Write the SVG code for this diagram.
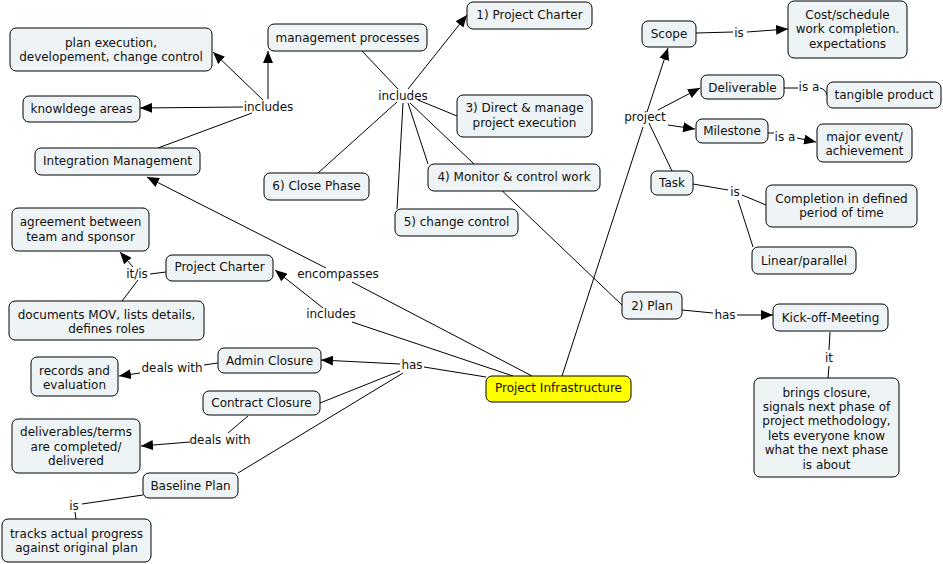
<svg xmlns="http://www.w3.org/2000/svg" width="943" height="564" viewBox="0 0 943 564">
<defs>
<marker id="arr" markerUnits="userSpaceOnUse" markerWidth="12" markerHeight="10" refX="12" refY="5" orient="auto">
<path d="M0,0 L12,5 L0,10 z" fill="#000"/>
</marker>
<style>
text{font-family:"DejaVu Sans",Verdana,sans-serif;font-size:12px;fill:#111;text-anchor:middle}
.n rect{fill:#eef3f5;stroke:#000;stroke-width:1}
#n_infra rect{fill:#ffff00}
#links line,#links path{stroke:#000;stroke-width:1;fill:none}
.a{marker-end:url(#arr)}
</style>
</defs>
<rect width="943" height="564" fill="#fff"/>
<g id="links">
<line x1="158" y1="148" x2="252" y2="113"/>
<line x1="243" y1="107" x2="140" y2="108" class="a"/>
<line x1="263" y1="100" x2="213" y2="52" class="a"/>
<line x1="268" y1="99" x2="268" y2="51" class="a"/>
<line x1="362" y1="51" x2="398" y2="89"/>
<line x1="408" y1="89" x2="467" y2="15" class="a"/>
<line x1="418" y1="100" x2="457" y2="116"/>
<line x1="408" y1="103" x2="428" y2="164"/>
<line x1="410" y1="103" x2="622" y2="305"/>
<line x1="403" y1="103" x2="397" y2="209"/>
<line x1="397" y1="102" x2="318" y2="173"/>
<line x1="532" y1="376" x2="352" y2="282"/>
<line x1="326" y1="268" x2="147" y2="177" class="a"/>
<line x1="513" y1="376" x2="352" y2="322"/>
<line x1="323" y1="308" x2="275" y2="270" class="a"/>
<line x1="486" y1="377" x2="424" y2="367"/>
<line x1="400" y1="364" x2="321" y2="360" class="a"/>
<line x1="400" y1="371" x2="320" y2="403"/>
<line x1="403" y1="373" x2="238" y2="473"/>
<line x1="218" y1="363" x2="204" y2="365"/>
<line x1="140" y1="373" x2="119" y2="376" class="a"/>
<line x1="248" y1="416" x2="228" y2="433"/>
<line x1="190" y1="442" x2="141" y2="446" class="a"/>
<line x1="143" y1="495" x2="82" y2="504"/>
<line x1="75" y1="512" x2="76" y2="519"/>
<line x1="166" y1="272" x2="150" y2="274"/>
<line x1="133" y1="267" x2="120" y2="252" class="a"/>
<line x1="138" y1="280" x2="122" y2="301"/>
<line x1="562" y1="376" x2="643" y2="127"/>
<line x1="647" y1="112" x2="668" y2="48" class="a"/>
<line x1="658" y1="110" x2="700" y2="88" class="a"/>
<line x1="668" y1="125" x2="695" y2="129" class="a"/>
<line x1="649" y1="123" x2="672" y2="171"/>
<line x1="696" y1="33" x2="733" y2="32"/>
<line x1="747" y1="32" x2="788" y2="29" class="a"/>
<line x1="784" y1="88" x2="798" y2="88"/>
<path d="M820,88 Q825,89 827,95"/>
<line x1="768" y1="133" x2="774" y2="133"/>
<line x1="797" y1="138" x2="816" y2="142" class="a"/>
<line x1="693" y1="184" x2="728" y2="190"/>
<line x1="742" y1="195" x2="766" y2="205"/>
<line x1="738" y1="200" x2="753" y2="247"/>
<line x1="682" y1="310" x2="713" y2="313"/>
<line x1="737" y1="315" x2="773" y2="315" class="a"/>
<line x1="830" y1="332" x2="829" y2="350"/>
<line x1="829" y1="366" x2="828" y2="378"/>
</g>
<g id="labels">
<text x="268.5" y="110.5">includes</text>
<text x="403" y="99.5">includes</text>
<text x="338" y="277.5">encompasses</text>
<text x="331" y="318">includes</text>
<text x="137" y="278">it/is</text>
<text x="412" y="369">has</text>
<text x="172" y="372">deals with</text>
<text x="220" y="444">deals with</text>
<text x="74" y="510">is</text>
<text x="739" y="37">is</text>
<text x="809" y="91">is a</text>
<text x="785" y="141">is a</text>
<text x="735" y="196">is</text>
<text x="645" y="121">project</text>
<text x="725" y="319">has</text>
<text x="829" y="362">it</text>
</g>
<g id="n_plan_exec" class="n"><rect x="10" y="28" width="202" height="43" rx="6"/><text x="111" y="47">plan execution,</text><text x="111" y="61">developement, change control</text></g>
<g id="n_mgmt" class="n"><rect x="268" y="24" width="159" height="27" rx="6"/><text x="347.5" y="42">management processes</text></g>
<g id="n_knowledge" class="n"><rect x="23" y="96" width="117" height="26" rx="6"/><text x="81.5" y="112.5">knowldege areas</text></g>
<g id="n_integration" class="n"><rect x="35" y="148" width="165" height="27" rx="6"/><text x="117.5" y="165">Integration Management</text></g>
<g id="n_close" class="n"><rect x="264" y="173" width="105" height="27" rx="6"/><text x="316.5" y="190">6) Close Phase</text></g>
<g id="n_agreement" class="n"><rect x="12" y="208" width="137" height="43" rx="6"/><text x="80.5" y="226">agreement between</text><text x="80.5" y="241">team and sponsor</text></g>
<g id="n_charter1" class="n"><rect x="467" y="2" width="125" height="27" rx="6"/><text x="529.5" y="19">1) Project Charter</text></g>
<g id="n_direct" class="n"><rect x="457" y="95" width="135" height="42" rx="6"/><text x="524.5" y="112">3) Direct &amp; manage</text><text x="524.5" y="127">project execution</text></g>
<g id="n_monitor" class="n"><rect x="428" y="164" width="172" height="27" rx="6"/><text x="514" y="181">4) Monitor &amp; control work</text></g>
<g id="n_change" class="n"><rect x="395" y="209" width="123" height="27" rx="6"/><text x="456.5" y="226">5) change control</text></g>
<g id="n_scope" class="n"><rect x="642" y="21" width="54" height="26" rx="6"/><text x="669" y="38">Scope</text></g>
<g id="n_cost" class="n"><rect x="788" y="1" width="119" height="57" rx="6"/><text x="847.5" y="18.5">Cost/schedule</text><text x="847.5" y="33">work completion.</text><text x="847.5" y="47.5">expectations</text></g>
<g id="n_deliverable" class="n"><rect x="701" y="75" width="83" height="24" rx="6"/><text x="742.5" y="92">Deliverable</text></g>
<g id="n_tangible" class="n"><rect x="827" y="82" width="114" height="26" rx="6"/><text x="884" y="98.5">tangible product</text></g>
<g id="n_milestone" class="n"><rect x="696" y="119" width="72" height="24" rx="6"/><text x="732" y="135">Milestone</text></g>
<g id="n_major" class="n"><rect x="817" y="124" width="95" height="38" rx="6"/><text x="864.5" y="141">major event/</text><text x="864.5" y="155">achievement</text></g>
<g id="n_task" class="n"><rect x="651" y="171" width="42" height="24" rx="6"/><text x="672" y="187">Task</text></g>
<g id="n_completion" class="n"><rect x="766" y="185" width="151" height="42" rx="6"/><text x="841.5" y="203">Completion in defined</text><text x="841.5" y="217">period of time</text></g>
<g id="n_linear" class="n"><rect x="752" y="247" width="104" height="27" rx="6"/><text x="804" y="264.5">Linear/parallel</text></g>
<g id="n_plan2" class="n"><rect x="622" y="292" width="60" height="27" rx="6"/><text x="652" y="309.5">2) Plan</text></g>
<g id="n_kickoff" class="n"><rect x="773" y="304" width="115" height="27" rx="6"/><text x="830.5" y="321.5">Kick-off-Meeting</text></g>
<g id="n_brings" class="n"><rect x="754" y="378" width="145" height="99" rx="6"/><text x="826.5" y="396.5">brings closure,</text><text x="826.5" y="411">signals next phase of</text><text x="826.5" y="425">project methodology,</text><text x="826.5" y="439.5">lets everyone know</text><text x="826.5" y="454">what the next phase</text><text x="826.5" y="468.5">is about</text></g>
<g id="n_infra" class="n"><rect x="486" y="376" width="145" height="26" rx="6"/><text x="558.5" y="392">Project Infrastructure</text></g>
<g id="n_charter2" class="n"><rect x="166" y="255" width="107" height="26" rx="6"/><text x="219.5" y="271">Project Charter</text></g>
<g id="n_documents" class="n"><rect x="9" y="301" width="195" height="39" rx="6"/><text x="106.5" y="318.5">documents MOV, lists details,</text><text x="106.5" y="333">defines roles</text></g>
<g id="n_admin" class="n"><rect x="218" y="348" width="103" height="25" rx="6"/><text x="269.5" y="364.5">Admin Closure</text></g>
<g id="n_records" class="n"><rect x="31" y="357" width="87" height="39" rx="6"/><text x="74.5" y="374.5">records and</text><text x="74.5" y="389">evaluation</text></g>
<g id="n_contract" class="n"><rect x="203" y="391" width="117" height="24" rx="6"/><text x="261.5" y="407">Contract Closure</text></g>
<g id="n_deliverables" class="n"><rect x="12" y="419" width="128" height="54" rx="6"/><text x="76" y="436">deliverables/terms</text><text x="76" y="451">are completed/</text><text x="76" y="465">delivered</text></g>
<g id="n_baseline" class="n"><rect x="143" y="473" width="95" height="25" rx="6"/><text x="190.5" y="490">Baseline Plan</text></g>
<g id="n_tracks" class="n"><rect x="2" y="519" width="149" height="43" rx="6"/><text x="76.5" y="537.5">tracks actual progress</text><text x="76.5" y="551.5">against original plan</text></g>
</svg>
